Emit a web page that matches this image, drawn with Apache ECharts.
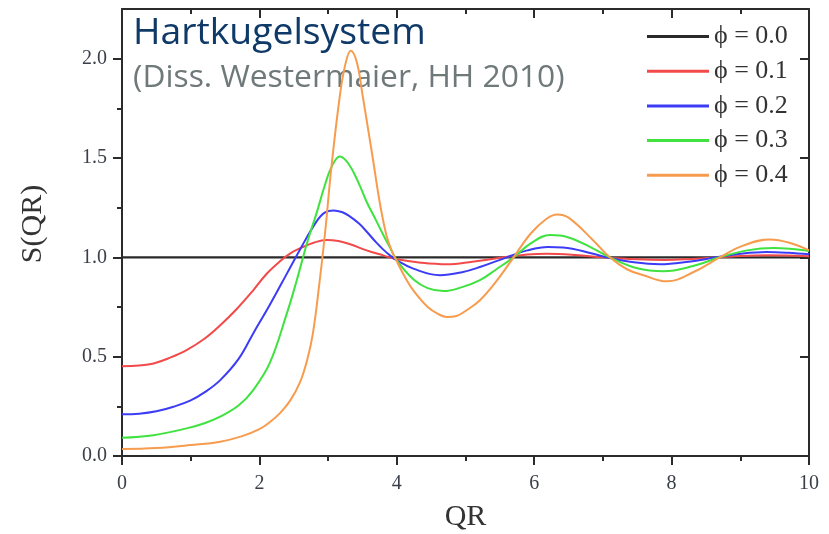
<!DOCTYPE html>
<html>
<head>
<meta charset="utf-8">
<script src="https://cdn.jsdelivr.net/npm/echarts@6/dist/echarts.min.js"></script>
<style>
html,body{margin:0;padding:0;background:#fff;}
#chart{width:829px;height:534px;}
</style>
</head>
<body>
<div id="chart"></div>
<script>
// ---- data ----
const seriesNames = ['\u03D5 = 0.0', '\u03D5 = 0.1', '\u03D5 = 0.2', '\u03D5 = 0.3', '\u03D5 = 0.4'];
const xTickLabels = [0, 2, 4, 6, 8, 10];
const yTickLabels = [0, 0.5, 1.0, 1.5, 2.0];
const yMinorTicks = [0.25, 0.75, 1.25, 1.75];

const phi00_x = [0, 10];
const phi00_s = [1.0, 1.0];

const phi01_x = [0, 0.25, 0.46, 0.7, 0.94, 1.2, 1.43, 1.67, 1.91, 2.1, 2.3, 2.45, 2.6, 2.8, 2.98, 3.15, 3.32, 3.56, 3.8, 4.0, 4.35, 4.73, 5.1, 5.55, 5.9, 6.18, 6.6, 7.0, 7.5, 7.9, 8.3, 8.7, 9.0, 9.4, 10];
const phi01_s = [0.452, 0.456, 0.466, 0.495, 0.533, 0.59, 0.658, 0.74, 0.834, 0.915, 0.98, 1.02, 1.047, 1.075, 1.087, 1.082, 1.066, 1.035, 1.01, 0.99, 0.973, 0.965, 0.978, 1.0, 1.014, 1.018, 1.012, 1.0, 0.99, 0.987, 0.992, 1.0, 1.007, 1.01, 1.005];

const phi02_x = [0, 0.25, 0.5, 0.75, 1.0, 1.2, 1.43, 1.7, 1.91, 2.15, 2.4, 2.6, 2.83, 2.95, 3.08, 3.2, 3.3, 3.45, 3.56, 3.7, 3.8, 3.9, 4.0, 4.24, 4.63, 4.95, 5.21, 5.6, 5.9, 6.2, 6.42, 6.86, 7.05, 7.45, 7.83, 8.25, 8.65, 9.0, 9.38, 9.7, 10];
const phi02_s = [0.21, 0.213, 0.225, 0.248, 0.28, 0.32, 0.382, 0.49, 0.617, 0.76, 0.918, 1.045, 1.18, 1.225, 1.236, 1.228, 1.21, 1.17, 1.13, 1.075, 1.04, 1.01, 0.985, 0.943, 0.91, 0.925, 0.951, 1.0, 1.035, 1.052, 1.05, 1.018, 1.0, 0.975, 0.965, 0.978, 1.0, 1.018, 1.027, 1.023, 1.015];

const phi03_x = [0, 0.46, 0.94, 1.2, 1.43, 1.7, 1.91, 2.15, 2.4, 2.54, 2.7, 2.83, 2.95, 3.05, 3.17, 3.3, 3.45, 3.56, 3.7, 3.8, 3.9, 4.0, 4.24, 4.45, 4.68, 4.95, 5.21, 5.45, 5.7, 5.95, 6.23, 6.5, 6.86, 7.1, 7.5, 7.88, 8.3, 8.7, 9.1, 9.48, 9.75, 10];
const phi03_s = [0.092, 0.105, 0.139, 0.165, 0.198, 0.255, 0.332, 0.467, 0.718, 0.88, 1.08, 1.22, 1.36, 1.455, 1.508, 1.47, 1.37, 1.28, 1.185, 1.115, 1.05, 0.985, 0.89, 0.845, 0.83, 0.85, 0.885, 0.94, 1.0, 1.07, 1.112, 1.1, 1.044, 1.0, 0.945, 0.93, 0.955, 1.0, 1.035, 1.047, 1.042, 1.032];

const phi04_x = [0, 0.5, 1.0, 1.43, 1.75, 2.0, 2.15, 2.3, 2.45, 2.59, 2.7, 2.78, 2.87, 2.955, 3.05, 3.17, 3.25, 3.33, 3.42, 3.5, 3.58, 3.65, 3.75, 3.85, 3.93, 4.0, 4.12, 4.24, 4.45, 4.6, 4.73, 4.87, 5.0, 5.21, 5.45, 5.7, 5.95, 6.18, 6.33, 6.5, 6.86, 7.1, 7.35, 7.59, 7.93, 8.32, 8.7, 9.05, 9.43, 9.75, 10];
const phi04_s = [0.035, 0.04, 0.055, 0.072, 0.1, 0.135, 0.17, 0.216, 0.28, 0.37, 0.49, 0.62, 0.86, 1.12, 1.46, 1.81, 1.97, 2.04, 1.98, 1.82, 1.65, 1.5, 1.28, 1.11, 1.03, 0.98, 0.9, 0.834, 0.75, 0.715, 0.70, 0.705, 0.73, 0.784, 0.88, 1.0, 1.12, 1.194, 1.216, 1.2, 1.085, 1.0, 0.94, 0.91, 0.879, 0.926, 1.0, 1.06, 1.09, 1.07, 1.035];

const seriesX = [phi00_x, phi01_x, phi02_x, phi03_x, phi04_x];
const seriesS = [phi00_s, phi01_s, phi02_s, phi03_s, phi04_s];
const seriesColors = ['#2a2a2a', '#f24a4a', '#3c3cf6', '#3fe23f', '#f79c4e'];
const seriesWidths = [2.4, 2, 2, 2, 2];

// ---- chart ----
const serif = "'Liberation Serif', 'DejaVu Serif', serif";
const sans = "'Open Sans', 'Noto Sans', sans-serif";
const axisColor = '#2b2b2b';
const chart = echarts.init(document.getElementById('chart'));

function pairs(xs, ys) { return xs.map((x, i) => [x, ys[i]]); }

const series = seriesNames.map((name, i) => ({
  name: name,
  type: 'line',
  xAxisIndex: 0,
  yAxisIndex: 0,
  data: pairs(seriesX[i], seriesS[i]),
  symbol: 'none',
  smooth: i === 0 ? false : 0.4,
  lineStyle: { color: seriesColors[i], width: seriesWidths[i] },
  itemStyle: { color: seriesColors[i] },
  z: 2 + i
}));

const option = {
  backgroundColor: '#ffffff',
  animation: false,
  title: [
    { text: 'Hartkugelsystem', left: 128, top: 10,
      textStyle: { fontFamily: sans, fontSize: 37.3, fontWeight: 'normal', color: '#0f3a68' } },
    { text: '(Diss. Westermaier, HH 2010)', left: 128, top: 56.5,
      textStyle: { fontFamily: sans, fontSize: 31.8, fontWeight: 'normal', color: '#707979' } }
  ],
  legend: {
    orient: 'vertical',
    left: 647,
    top: 23.5,
    padding: 0,
    icon: 'rect',
    itemWidth: 62,
    itemHeight: 3,
    itemGap: 8.7,
    data: seriesNames,
    textStyle: { fontFamily: serif, fontSize: 26, color: '#333' }
  },
  grid: { left: 122, right: 20, top: 9, bottom: 78, containLabel: false, outerBoundsMode: 'none' },
  xAxis: [
    {
      type: 'value', min: 0, max: 10, interval: 2, position: 'bottom',
      name: 'QR', nameLocation: 'middle', nameGap: 46,
      nameTextStyle: { fontFamily: serif, fontSize: 30, color: '#333' },
      axisLine: { show: true, onZero: false, lineStyle: { color: axisColor, width: 2 } },
      axisTick: { show: true, inside: false, length: 9, lineStyle: { color: axisColor, width: 2 } },
      minorTick: { show: true, splitNumber: 2, length: 5, lineStyle: { color: axisColor, width: 2 } },
      axisLabel: { margin: 18, fontFamily: serif, fontSize: 20, color: '#3a3f48',
        formatter: v => xTickLabels.indexOf(v) >= 0 ? String(v) : '' },
      splitLine: { show: false }, minorSplitLine: { show: false }
    },
    {
      type: 'value', min: 0, max: 10, interval: 2, position: 'top',
      axisLine: { show: true, onZero: false, lineStyle: { color: axisColor, width: 2 } },
      axisTick: { show: true, inside: true, length: 9, lineStyle: { color: axisColor, width: 2 } },
      minorTick: { show: true, splitNumber: 2, length: 5, lineStyle: { color: axisColor, width: 2 } },
      axisLabel: { show: false },
      splitLine: { show: false }, minorSplitLine: { show: false }
    }
  ],
  yAxis: [
    {
      type: 'value', min: 0, max: 2.25, position: 'left',
      name: 'S(QR)', nameLocation: 'middle', nameGap: 74,
      nameTextStyle: { fontFamily: serif, fontSize: 30, color: '#333', padding: [0, 0, 0, 17] },
      axisLine: { show: true, onZero: false, lineStyle: { color: axisColor, width: 2 } },
      axisTick: { show: true, inside: false, length: 9, customValues: yTickLabels, lineStyle: { color: axisColor, width: 2 } },
      axisLabel: { margin: 15, fontFamily: serif, fontSize: 20, color: '#3a3f48', customValues: yTickLabels,
        formatter: v => v.toFixed(1) },
      splitLine: { show: false }
    },
    {
      type: 'value', min: 0, max: 2.25, position: 'left',
      axisLine: { show: false },
      axisTick: { show: true, inside: false, length: 5, customValues: yMinorTicks, lineStyle: { color: axisColor, width: 2 } },
      axisLabel: { show: false },
      splitLine: { show: false }
    },
    {
      type: 'value', min: 0, max: 2.25, position: 'right',
      axisLine: { show: true, onZero: false, lineStyle: { color: axisColor, width: 2 } },
      axisTick: { show: true, inside: true, length: 9, customValues: yTickLabels, lineStyle: { color: axisColor, width: 2 } },
      axisLabel: { show: false },
      splitLine: { show: false }
    },
    {
      type: 'value', min: 0, max: 2.25, position: 'right',
      axisLine: { show: false },
      axisTick: { show: true, inside: true, length: 5, customValues: yMinorTicks, lineStyle: { color: axisColor, width: 2 } },
      axisLabel: { show: false },
      splitLine: { show: false }
    }
  ],
  series: series
};
chart.setOption(option);
</script>
</body>
</html>
